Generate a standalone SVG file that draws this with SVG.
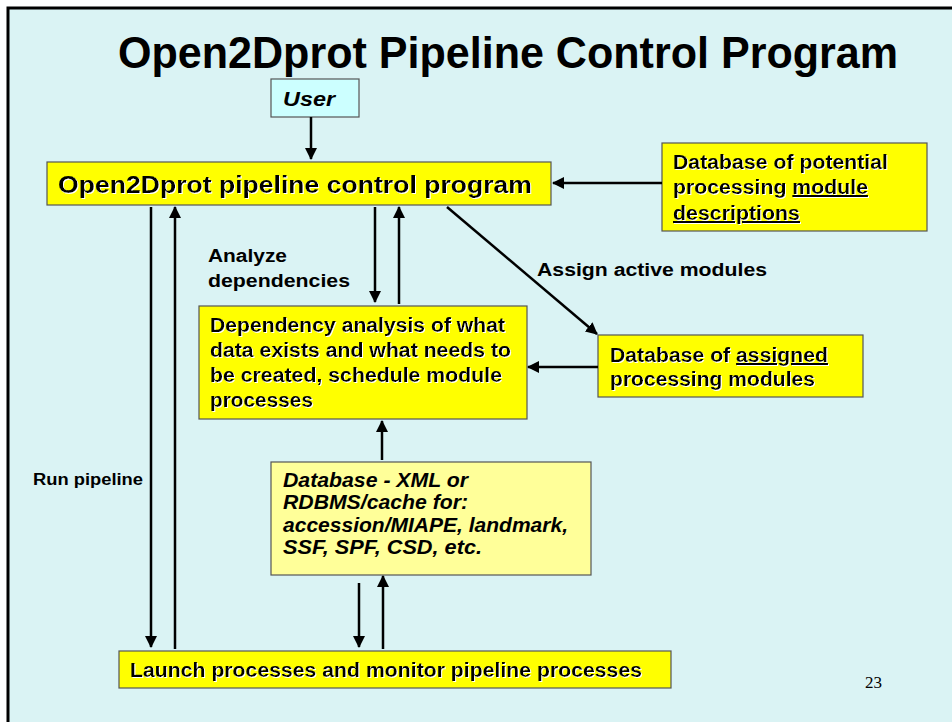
<svg xmlns="http://www.w3.org/2000/svg" width="952" height="722" viewBox="0 0 952 722">
<defs>
<marker id="ah" viewBox="0 0 12 12" refX="11" refY="6" markerWidth="12" markerHeight="12" markerUnits="userSpaceOnUse" orient="auto">
<path d="M0,0 L12,6 L0,12 z" fill="#000"/>
</marker>
<filter id="sh" x="-5%" y="-20%" width="110%" height="140%">
<feDropShadow dx="1" dy="1" stdDeviation="0" flood-color="#fff" flood-opacity="1"/>
</filter>
</defs>
<style>
.bx{fill:#ffff00;stroke:#555;stroke-width:1.2}
.t{font-family:"Liberation Sans",Arial,sans-serif;font-weight:bold;fill:#000}
.i{font-style:italic}
.c line{stroke:#000;stroke-width:2.5;marker-end:url(#ah)}
.u{text-decoration:underline}
</style>
<rect x="0" y="0" width="952" height="722" fill="#fff"/>
<rect x="8" y="8" width="944" height="714" fill="#daf3f4"/>
<path d="M8,722 L8,8 L952,8" fill="none" stroke="#000" stroke-width="3"/>
<text class="t" x="118" y="68" font-size="45" textLength="780" lengthAdjust="spacingAndGlyphs">Open2Dprot Pipeline Control Program</text>

<g id="user">
<rect x="271" y="79" width="88" height="38" fill="#ccffff" stroke="#555" stroke-width="1.2"/>
<text class="t i" x="283" y="106" font-size="20" textLength="52" lengthAdjust="spacingAndGlyphs">User</text>
</g>
<g id="main">
<rect class="bx" x="47" y="162" width="504" height="43"/>
<text class="t" x="58" y="193" font-size="24" textLength="474" lengthAdjust="spacingAndGlyphs" filter="url(#sh)">Open2Dprot pipeline control program</text>
</g>
<g id="dbpotential">
<rect class="bx" x="662" y="143" width="265" height="88"/>
<text class="t" font-size="20" filter="url(#sh)">
<tspan x="673" y="169" textLength="215" lengthAdjust="spacingAndGlyphs">Database of potential</tspan>
<tspan x="673" y="194" textLength="195" lengthAdjust="spacingAndGlyphs">processing <tspan class="u">module</tspan></tspan>
<tspan x="673" y="220" class="u" textLength="127" lengthAdjust="spacingAndGlyphs">descriptions</tspan>
</text>
</g>
<g id="depend">
<rect class="bx" x="199" y="306" width="328" height="113"/>
<text class="t" font-size="20" filter="url(#sh)">
<tspan x="210" y="332" textLength="295" lengthAdjust="spacingAndGlyphs">Dependency analysis of what</tspan>
<tspan x="210" y="357" textLength="301" lengthAdjust="spacingAndGlyphs">data exists and what needs to</tspan>
<tspan x="210" y="382" textLength="292" lengthAdjust="spacingAndGlyphs">be created, schedule module</tspan>
<tspan x="210" y="407" textLength="103" lengthAdjust="spacingAndGlyphs">processes</tspan>
</text>
</g>
<g id="dbassigned">
<rect class="bx" x="598" y="335" width="265" height="62"/>
<text class="t" font-size="20" filter="url(#sh)">
<tspan x="610" y="362" textLength="218" lengthAdjust="spacingAndGlyphs">Database of <tspan class="u">assigned</tspan></tspan>
<tspan x="610" y="386" textLength="205" lengthAdjust="spacingAndGlyphs">processing modules</tspan>
</text>
</g>
<g id="dbxml">
<rect x="271" y="462" width="320" height="113" fill="#ffff99" stroke="#555" stroke-width="1.2"/>
<text class="t i" font-size="20">
<tspan x="283" y="487" textLength="185" lengthAdjust="spacingAndGlyphs">Database - XML or</tspan>
<tspan x="283" y="509" textLength="185" lengthAdjust="spacingAndGlyphs">RDBMS/cache for:</tspan>
<tspan x="283" y="532" textLength="285" lengthAdjust="spacingAndGlyphs">accession/MIAPE, landmark,</tspan>
<tspan x="283" y="554" textLength="199" lengthAdjust="spacingAndGlyphs">SSF, SPF, CSD, etc.</tspan>
</text>
</g>
<g id="launch">
<rect class="bx" x="119" y="651" width="552" height="37"/>
<text class="t" x="130" y="677" font-size="20" textLength="512" lengthAdjust="spacingAndGlyphs" filter="url(#sh)">Launch processes and monitor pipeline processes</text>
</g>

<g id="connectors" class="c">
<line x1="311" y1="117" x2="311" y2="159"/>
<line x1="662" y1="183" x2="553" y2="183"/>
<line x1="151" y1="207" x2="151" y2="647"/>
<line x1="175" y1="649" x2="175" y2="207"/>
<line x1="375" y1="207" x2="375" y2="302"/>
<line x1="399" y1="304" x2="399" y2="207"/>
<line x1="447" y1="207" x2="597" y2="334"/>
<line x1="598" y1="367" x2="528" y2="367"/>
<line x1="382" y1="460" x2="382" y2="421"/>
<line x1="359" y1="583" x2="359" y2="647"/>
<line x1="383" y1="649" x2="383" y2="576"/>
</g>
<g id="labels">
<text class="t" font-size="18"><tspan x="208" y="262" textLength="79" lengthAdjust="spacingAndGlyphs">Analyze</tspan><tspan x="208" y="287" textLength="142" lengthAdjust="spacingAndGlyphs">dependencies</tspan></text>
<text class="t" x="537" y="276" font-size="18" textLength="230" lengthAdjust="spacingAndGlyphs">Assign active modules</text>
<text class="t" x="33" y="485" font-size="16" textLength="110" lengthAdjust="spacingAndGlyphs">Run pipeline</text>
</g>
<text x="865" y="688" font-family="'Liberation Serif','Times New Roman',serif" font-size="17" fill="#000">23</text>
</svg>
